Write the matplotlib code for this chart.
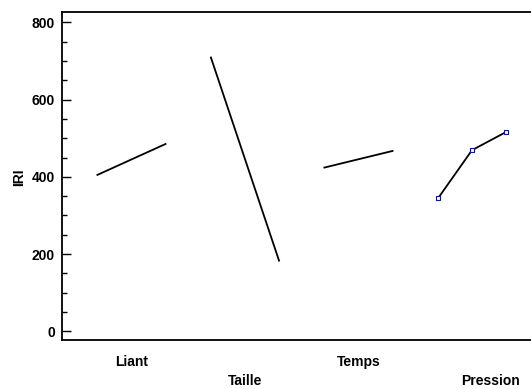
import numpy as np
import matplotlib
matplotlib.use("Agg")
import matplotlib.pyplot as plt
import matplotlib.transforms as mtransforms
from matplotlib.ticker import MultipleLocator

# Effets principaux sur IRI
facteurs = ["Liant", "Taille", "Temps", "Pression"]
liant = [405, 485]
taille = [709, 183]
temps = [424, 467]
pression = [344, 469, 516]
niveaux = [liant, taille, temps, pression]

plt.rcParams["font.family"] = ["Liberation Sans Narrow", "Liberation Sans", "DejaVu Sans"]
plt.rcParams["font.weight"] = "bold"

fig = plt.figure(figsize=(5.31, 3.89), dpi=100)
ax = fig.add_axes([62 / 531, 1 - 340 / 389, 469 / 531, 327.7 / 389])

for i, vals in enumerate(niveaux):
    x = np.linspace(i - 0.3, i + 0.3, len(vals))
    ax.plot(x, vals, color="black", lw=1.3, zorder=2)
    if len(vals) > 2:
        ax.plot(x, vals, ls="none", marker="s", ms=3, mfc="white", mec="blue", mew=0.8, zorder=3)

ax.set_xlim(-0.612, 3.52)
ax.set_ylim(-22.5, 826)
ax.yaxis.set_major_locator(MultipleLocator(200))
ax.yaxis.set_minor_locator(MultipleLocator(50))
ax.tick_params(axis="y", which="major", direction="in", length=6.5, width=1, labelsize=10, pad=5)
ax.tick_params(axis="y", which="minor", direction="in", length=3.6, width=1)
ax.set_xticks([])
for lab in ax.get_yticklabels():
    lab.set_fontweight("bold")
ax.spines["right"].set_visible(False)
for s in ["left", "top", "bottom"]:
    ax.spines[s].set_linewidth(1.3)

fig.text(19 / 531, 1 - 177 / 389, "IRI", rotation=90, ha="center", va="center",
         fontsize=10, fontweight="bold")

# étiquettes des facteurs, décalées sur deux rangs
lab_x = [0, 1, 2, 3.16]
lab_y = [362, 381, 362, 381]
trans = mtransforms.blended_transform_factory(ax.transData, fig.transFigure)
for nom, xx, yy in zip(facteurs, lab_x, lab_y):
    ax.text(xx, 1 - yy / 389, nom, transform=trans,
            ha="center", va="center", fontsize=10, fontweight="bold")

fig.savefig("out.png", dpi=100)
